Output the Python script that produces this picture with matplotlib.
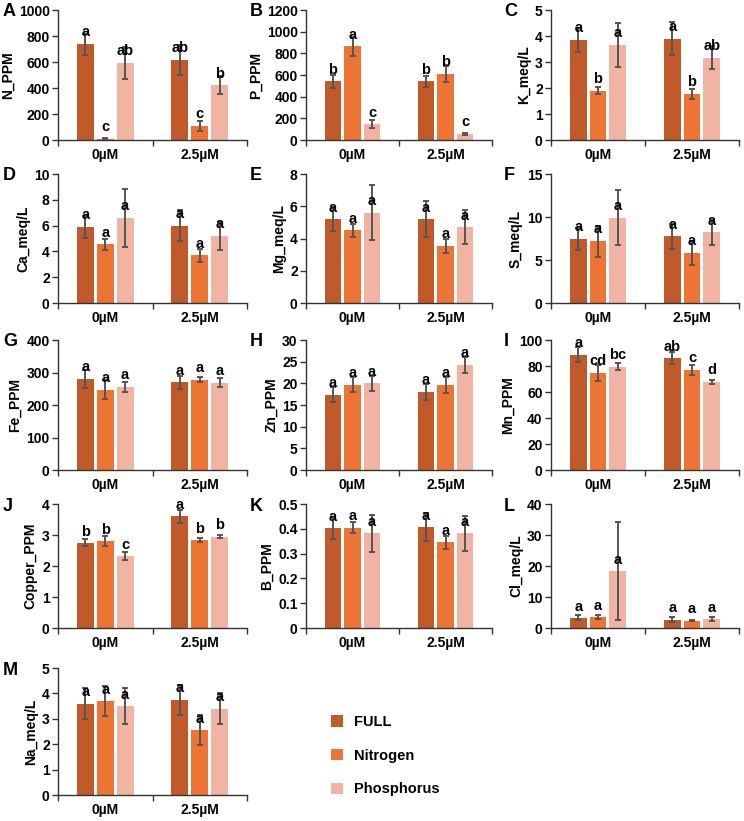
import matplotlib.pyplot as plt
import numpy as np
from matplotlib.patches import Patch
from matplotlib.ticker import FormatStrFormatter, MultipleLocator

plt.rcParams['font.family'] = ['Liberation Sans', 'DejaVu Sans']
plt.rcParams['font.weight'] = 'bold'

# data: treatment order FULL, Nitrogen, Phosphorus; groups 0uM, 2.5uM
groups = ['0µM', '2.5µM']
treatments = ['FULL', 'Nitrogen', 'Phosphorus']
colors = ['#C05A2A', '#EC7434', '#F2B4A2']

panel_ids = ['A', 'B', 'C', 'D', 'E', 'F', 'G', 'H', 'I', 'J', 'K', 'L', 'M']
ylabels = ['N_PPM', 'P_PPM', 'K_meq/L', 'Ca_meq/L', 'Mg_meq/L', 'S_meq/L',
           'Fe_PPM', 'Zn_PPM', 'Mn_PPM', 'Copper_PPM', 'B_PPM', 'Cl_meq/L', 'Na_meq/L']
ymax = [1000, 1200, 5, 10, 8, 15, 400, 30, 100, 4, 0.5, 40, 5]
ystep = [200, 200, 1, 2, 2, 5, 100, 5, 20, 1, 0.1, 10, 1]

# means per panel: [FULL0, N0, P0, FULL2.5, N2.5, P2.5]
means = [
    [737, 10, 593, 615, 108, 420],
    [540, 865, 145, 540, 610, 55],
    [3.85, 1.9, 3.65, 3.9, 1.77, 3.17],
    [5.9, 4.55, 6.6, 6.0, 3.7, 5.2],
    [5.2, 4.5, 5.6, 5.2, 3.55, 4.7],
    [7.45, 7.2, 9.9, 7.75, 5.85, 8.2],
    [280, 247, 256, 270, 278, 268],
    [17.4, 19.7, 20.0, 18.0, 19.6, 24.3],
    [88.5, 74.5, 79.5, 86.0, 77.0, 68.0],
    [2.75, 2.8, 2.32, 3.6, 2.83, 2.95],
    [0.403, 0.405, 0.382, 0.407, 0.345, 0.382],
    [3.3, 3.5, 18.4, 2.7, 2.4, 2.9],
    [3.6, 3.7, 3.5, 3.75, 2.55, 3.4],
]
errors = [
    [80, 5, 125, 118, 38, 70],
    [62, 88, 38, 55, 75, 6],
    [0.45, 0.13, 0.85, 0.62, 0.18, 0.45],
    [0.85, 0.42, 2.25, 1.2, 0.5, 1.1],
    [0.75, 0.42, 1.7, 1.1, 0.45, 1.05],
    [1.3, 1.8, 3.2, 1.45, 1.4, 1.4],
    [28, 30, 16, 20, 7, 14],
    [1.7, 1.7, 1.8, 1.8, 1.8, 1.8],
    [5.8, 6.3, 2.5, 4.7, 4.0, 1.5],
    [0.12, 0.17, 0.12, 0.2, 0.07, 0.06],
    [0.046, 0.022, 0.075, 0.055, 0.026, 0.07],
    [0.8, 0.6, 15.8, 0.8, 0.2, 0.6],
    [0.6, 0.6, 0.7, 0.6, 0.6, 0.6],
]
letters = [
    ['a', 'c', 'ab', 'ab', 'c', 'b'],
    ['b', 'a', 'c', 'b', 'b', 'c'],
    ['a', 'b', 'a', 'a', 'b', 'ab'],
    ['a'] * 6,
    ['a'] * 6,
    ['a'] * 6,
    ['a'] * 6,
    ['a'] * 6,
    ['a', 'cd', 'bc', 'ab', 'c', 'd'],
    ['b', 'b', 'c', 'a', 'b', 'b'],
    ['a'] * 6,
    ['a'] * 6,
    ['a'] * 6,
]

W, H = 744, 821
fig = plt.figure(figsize=(W / 100, H / 100), dpi=100)

col_left = [58, 306, 551]
col_right = [247, 492, 739]
row_top = [10, 174, 340, 504, 668]
row_bot = [140, 303, 470, 628, 795]
label_x = [3, 250, 504]

width = 0.18
step = 0.21
x = np.arange(len(groups))

for i, pid in enumerate(panel_ids):
    r, c = divmod(i, 3)
    ax = fig.add_axes([col_left[c] / W, 1 - row_bot[r] / H,
                       (col_right[c] - col_left[c]) / W, (row_bot[r] - row_top[r]) / H])
    m = np.array(means[i]).reshape(2, 3)
    e = np.array(errors[i]).reshape(2, 3)
    lt = np.array(letters[i]).reshape(2, 3)
    for t in range(3):
        xs = x + (t - 1) * step
        ax.bar(xs, m[:, t], width, color=colors[t], zorder=2)
        ax.errorbar(xs, m[:, t], yerr=e[:, t], fmt='none', ecolor='#555555',
                    elinewidth=1.4, capsize=2.5, capthick=1.4, zorder=3)
        for g in range(2):
            ax.text(xs[g], m[g, t] + 0.09 * ymax[i], lt[g, t], ha='center', va='center',
                    fontsize=10.5, fontweight='bold', zorder=4)
    ax.set_xlim(-0.5, 1.5)
    ax.set_ylim(0, ymax[i])
    ax.yaxis.set_major_locator(MultipleLocator(ystep[i]))
    ax.yaxis.set_major_formatter(FormatStrFormatter('%g'))
    ax.set_xticks(x)
    ax.set_xticklabels(groups)
    ax.set_xticks([-0.5, 0.5, 1.5], minor=True)
    ax.tick_params(axis='x', which='major', length=0, pad=6, labelsize=10)
    ax.tick_params(axis='x', which='minor', length=4, width=1, color='#333333')
    ax.tick_params(axis='y', length=4, width=1, color='#333333', labelsize=10, pad=2)
    for lab in ax.get_xticklabels() + ax.get_yticklabels():
        lab.set_fontweight('bold')
    for s in ['top', 'right']:
        ax.spines[s].set_visible(False)
    for s in ['left', 'bottom']:
        ax.spines[s].set_color('#333333')
        ax.spines[s].set_linewidth(1)
    ax.set_ylabel(ylabels[i], fontsize=10, fontweight='bold', labelpad=3)
    fig.text(label_x[c] / W, 1 - (row_top[r] + 2) / H, pid, fontsize=13,
             fontweight='bold', ha='left', va='center')

handles = [Patch(facecolor=colors[t]) for t in range(3)]
fig.legend(handles, treatments, loc='upper left', bbox_to_anchor=(318 / W, 1 - 702 / H),
           frameon=False, prop={'weight': 'bold', 'size': 10.5}, handlelength=0.8,
           handleheight=0.8, labelspacing=1.35, handletextpad=0.8)

fig.savefig('out.png', dpi=100)
